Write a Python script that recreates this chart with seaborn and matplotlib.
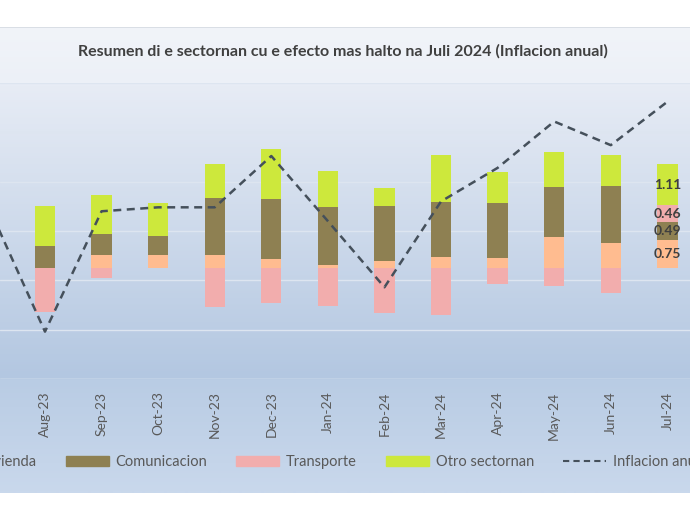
import numpy as np
import seaborn as sns
import matplotlib.pyplot as plt
from matplotlib.patches import Patch
from matplotlib.lines import Line2D
from matplotlib.colors import LinearSegmentedColormap

months = ["Jul-23", "Aug-23", "Sep-23", "Oct-23", "Nov-23", "Dec-23", "Jan-24",
          "Feb-24", "Mar-24", "Apr-24", "May-24", "Jun-24", "Jul-24"]

# inflacion anual (secondary axis), Jul-23 .. Jul-24
inflacion = [1.75, 0.48, 1.70, 1.74, 1.74, 2.26, 1.60, 0.93, 1.80, 2.14, 2.61, 2.37, 2.81]

# sector contributions, Aug-23 .. Jul-24
vivienda = [0.00, 0.35, 0.34, 0.35, 0.24, 0.08, 0.19, 0.30, 0.27, 0.84, 0.67, 0.75]
comunicacion = [0.59, 0.57, 0.52, 1.54, 1.62, 1.56, 1.48, 1.48, 1.48, 1.35, 1.54, 0.49]
transporte = [-1.19, -0.27, 0.00, -1.05, -0.94, -1.04, -1.21, -1.27, -0.43, -0.49, -0.67, 0.46]
otro = [1.08, 1.05, 0.90, 0.92, 1.35, 0.98, 0.49, 1.27, 0.84, 0.94, 0.84, 1.11]

series = [("Vivienda", vivienda, "#FFBC90"),
          ("Comunicacion", comunicacion, "#8E8052"),
          ("Transporte", transporte, "#F2ADAD"),
          ("Otro sectornan", otro, "#CDE83C")]

title = "Resumen di e sectornan cu e efecto mas halto na Juli 2024 (Inflacion anual)"

sns.set_theme(style="white")
plt.rcParams['font.family'] = ['Lato', 'DejaVu Sans']

W, H = 690, 512
fig = plt.figure(figsize=(W / 100, H / 100), dpi=100)

# chart frame with gradient background
top_px, bot_px = 27, 493
bg = fig.add_axes([0, 1 - bot_px / H, 1, (bot_px - top_px) / H], zorder=-5)
span = bot_px - top_px
stops = [(0.0, "#F1F4F9"), ((82 - top_px) / span, "#ECF0F7"),
         ((84 - top_px) / span, "#E7ECF5"), ((378 - top_px) / span, "#B3C7E1"),
         ((380 - top_px) / span, "#B9CCE4"), (1.0, "#C9D8EC")]
cmap = LinearSegmentedColormap.from_list("bg", stops)
bg.imshow(np.linspace(0, 1, span)[:, None], aspect="auto", cmap=cmap,
          extent=[0, 1, 0, 1], interpolation="bilinear")
bg.set_xlim(0, 1)
bg.set_ylim(0, 1)
bg.axis("off")
bg.axhline(1, color="#D5DAE2", lw=1.2)

# plot area
ax = fig.add_axes([0, 1 - 379 / H, 1, (379 - 83) / H])
ax.patch.set_alpha(0)
x_all = np.arange(len(months))
xb = x_all[1:]

pos_base = np.zeros(len(xb))
neg_base = np.zeros(len(xb))
containers = []
for name, vals, col in series:
    v = np.array(vals)
    bottom = np.where(v >= 0, pos_base, neg_base)
    c = ax.bar(xb, v, bottom=bottom, width=0.36, color=col, label=name,
               edgecolor="none", linewidth=0, zorder=3)
    containers.append(c)
    pos_base += np.where(v >= 0, v, 0)
    neg_base += np.where(v < 0, v, 0)

# value labels on the last month only
for (name, vals, col), c in zip(series, containers):
    labs = [""] * (len(vals) - 1) + [f"{vals[-1]:.2f}"]
    ax.bar_label(c, labels=labs, label_type="center", fontsize=10,
                 fontweight="bold", color="#3F3F3F")

ax.set_ylim(-3, 5)
ax.set_yticks(np.linspace(-3, 5, 7))
ax.set_yticklabels([])
ax.grid(axis="y", color="#DDE5F0", lw=1)
ax.set_axisbelow(True)
ax.set_xlim(0.205, 12.40)
ax.set_xticks(x_all)
ax.set_xticklabels(months, rotation=90, fontsize=10, color="#595959")
ax.tick_params(axis="both", length=0)
ax.tick_params(axis="x", pad=9)
for s in ax.spines.values():
    s.set_visible(False)

# inflation line on secondary axis
ax2 = ax.twinx()
ax2.patch.set_alpha(0)
sns.lineplot(x=x_all, y=inflacion, ax=ax2, color="#45505B", lw=1.8, legend=False)
ax2.lines[0].set_dashes([3.2, 2.2])
ax2.set_ylim(0, 3)
ax2.set_yticks([])
ax2.set_xlim(0.205, 12.40)
for s in ax2.spines.values():
    s.set_visible(False)

fig.text(343 / W, 1 - 51 / H, title, ha="center", va="center", fontsize=11.5,
         fontweight="bold", color="#404040")

handles = [Patch(color=col) for _, _, col in series]
handles.append(Line2D([], [], color="#45505B", lw=1.5, dashes=[3, 2]))
labels = [name for name, _, _ in series] + ["Inflacion anual"]
fig.legend(handles, labels, loc="center left", bbox_to_anchor=(-0.100, 1 - 462 / H),
           ncol=5, frameon=False, fontsize=10.5, labelcolor="#595959",
           handlelength=2.95, handletextpad=0.45, columnspacing=2.0,
           borderpad=0, borderaxespad=0)

fig.savefig("out.png", dpi=100)
